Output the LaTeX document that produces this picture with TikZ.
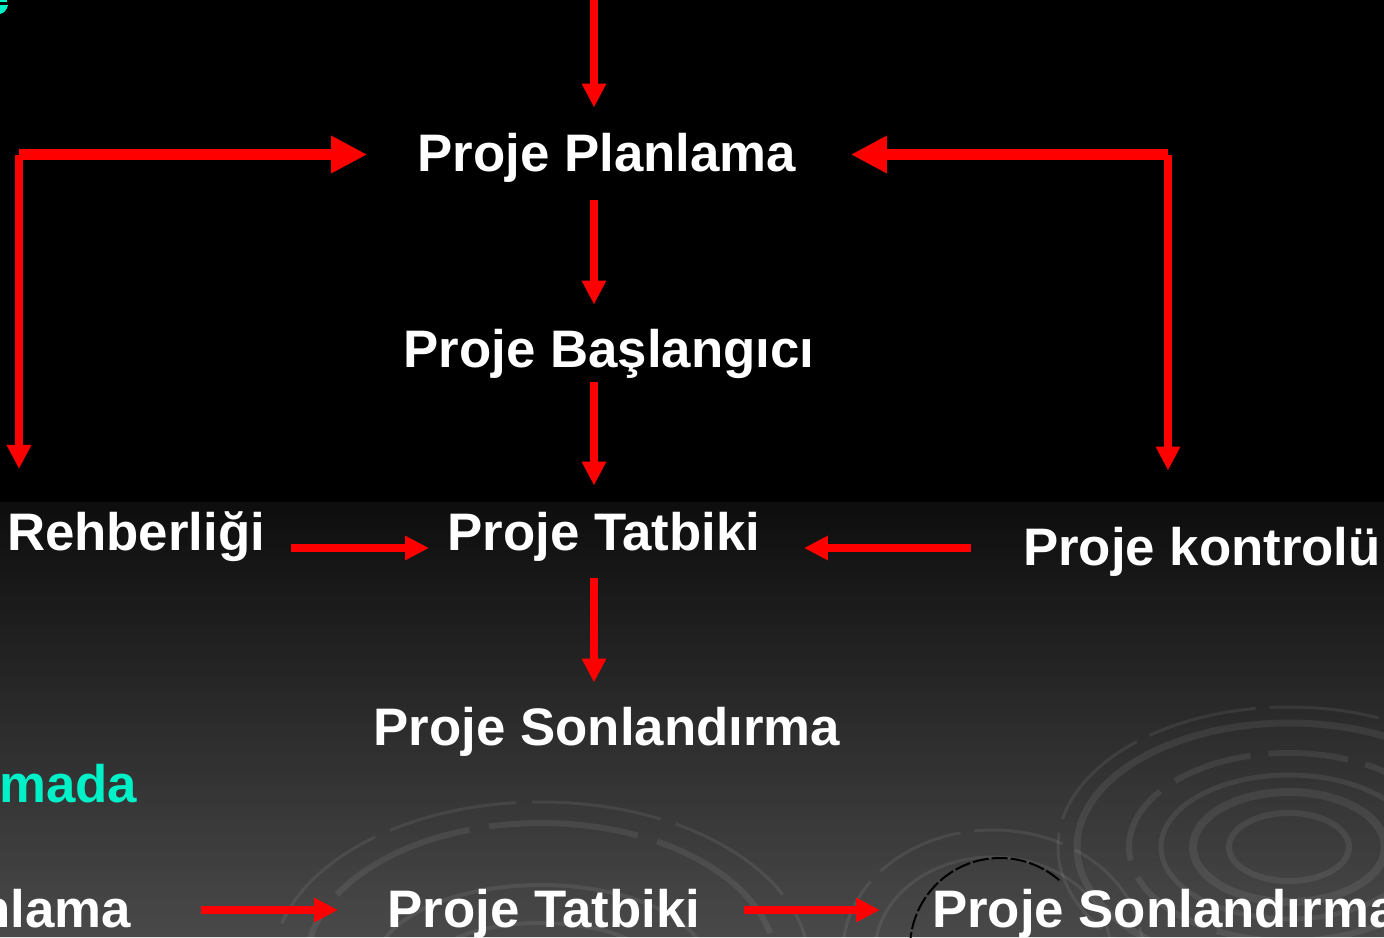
\documentclass[tikz,border=0pt]{standalone}
\usepackage{fontspec}
\setmainfont{Liberation Sans}
\usetikzlibrary{arrows.meta}
\definecolor{arrred}{RGB}{255,0,0}
\definecolor{tealtxt}{RGB}{0,240,200}
\begin{document}
\begin{tikzpicture}[x=1pt,y=-1pt,
  lbl/.style={text=white,font=\fontsize{52.8}{60}\selectfont\bfseries,inner sep=0pt,outer sep=0pt},
  arr/.style={draw=arrred,line width=7.5pt,-{Triangle[length=24pt,width=23pt]}},
  bigarr/.style={draw=arrred,line width=11pt,-{Triangle[length=36pt,width=35pt]}},
  ring/.style={draw=white,draw opacity=0.075},
  blackarc/.style={draw=black,line width=2pt,dash pattern=on 16pt off 3pt}
]
\useasboundingbox (0,0) rectangle (1384,937);
\clip (0,0) rectangle (1384,937);
% background
\fill[black] (0,0) rectangle (1384,503);
\foreach \i in {0,...,87} {
  \pgfmathtruncatemacro\v{14+\i*60/87}
  \definecolor{bgc}{RGB}{\v,\v,\v}
  \fill[bgc] (0,{502+\i*5}) rectangle (1384,937);
}
% decorative rings, right group
\draw[ring,line width=3pt,dash pattern=on 110pt off 14pt] (1289,847) ellipse [x radius=231, y radius=140];
\draw[ring,line width=7pt] (1289,847) ellipse [x radius=212, y radius=124];
\draw[ring,line width=6pt,dash pattern=on 80pt off 18pt] (1289,847) ellipse [x radius=160, y radius=94];
\draw[ring,line width=5pt] (1289,847) ellipse [x radius=128, y radius=72];
\draw[ring,line width=8pt] (1289,847) ellipse [x radius=96, y radius=55];
\draw[ring,line width=6pt] (1289,847) ellipse [x radius=60, y radius=34];
% decorative rings, bottom centre group
\draw[ring,line width=3pt,dash pattern=on 130pt off 16pt] (541,965) ellipse [x radius=268, y radius=163];
\draw[ring,line width=6pt,dash pattern=on 150pt off 20pt] (541,965) ellipse [x radius=235, y radius=142];
\draw[ring,line width=4pt] (541,965) ellipse [x radius=165, y radius=80];
\draw[ring,line width=4pt] (541,965) ellipse [x radius=110, y radius=42];
% decorative rings, small group
\draw[ring,line width=3pt,dash pattern=on 90pt off 14pt] (993,952) ellipse [x radius=150, y radius=122];
\draw[ring,line width=3pt] (993,952) ellipse [x radius=118, y radius=95];
\draw[blackarc] (910,948) arc[start angle=180, end angle=312, x radius=90, y radius=90];
% teal fragment top left
\fill[tealtxt] (0,0) rectangle (7,2);
\fill[tealtxt] (0,5) -- (8,5) .. controls (7,10) and (4,13) .. (0,14) -- cycle;
% texts
\node[lbl,anchor=base] (plan) at (607,171) {Proje Planlama};
\node[lbl,anchor=base] (bas) at (609,367) {Proje Başlangıcı};
\node[lbl,anchor=base] (tat) at (604,550) {Proje Tatbiki};
\node[lbl,anchor=base] (son) at (607,745) {Proje Sonlandırma};
\node[lbl,anchor=base west] (reh) at (7,550) {Rehberliği};
\node[lbl,anchor=base west] (kon) at (1023,565) {Proje kontrolü};
\node[lbl,anchor=base east,text=tealtxt] (mada) at (137,802) {mada};
\node[lbl,anchor=base east] (nlama) at (131,927) {nlama};
\node[lbl,anchor=base] (btat) at (544,927) {Proje Tatbiki};
\node[lbl,anchor=base west] (bson) at (932,927) {Proje Sonlandırma};
% connectors
\coordinate (topin) at (594,-6);
\coordinate (ax) at (594,0);
\coordinate (cl) at (19,154.5);
\coordinate (cr) at (1168,154.5);
\coordinate (midy) at (0,548);
\coordinate (boty) at (0,910);
\draw[arr,shorten >=25.2pt] (topin) -- (ax |- plan.north);
\draw[arr,shorten <=17.9pt,shorten >=24.2pt] (ax |- plan.south) -- (ax |- bas.north);
\draw[arr,shorten <=4.3pt,shorten >=26.2pt] (ax |- bas.south) -- (ax |- tat.north);
\draw[arr,shorten <=16.9pt,shorten >=24.2pt] (ax |- tat.south) -- (ax |- son.north);
\draw[bigarr,shorten >=50.5pt] (cl) -- (cl -| plan.west);
\draw[arr,shorten >=42.2pt] (cl) -- (cl |- reh.north);
\draw[bigarr,shorten >=54.5pt] (cr) -- (cr -| plan.east);
\draw[arr,shorten >=56.2pt] (cr) -- (cr |- kon.north);
\draw[arr,shorten <=26pt,shorten >=18.5pt] (reh.east |- midy) -- (tat.west |- midy);
\draw[arr,shorten <=52pt,shorten >=43.5pt] (kon.west |- midy) -- (tat.east |- midy);
\draw[arr,shorten <=70pt,shorten >=49.5pt] (nlama.east |- boty) -- (btat.west |- boty);
\draw[arr,shorten <=43.5pt,shorten >=52pt] (btat.east |- boty) -- (bson.west |- boty);
\end{tikzpicture}
\end{document}
